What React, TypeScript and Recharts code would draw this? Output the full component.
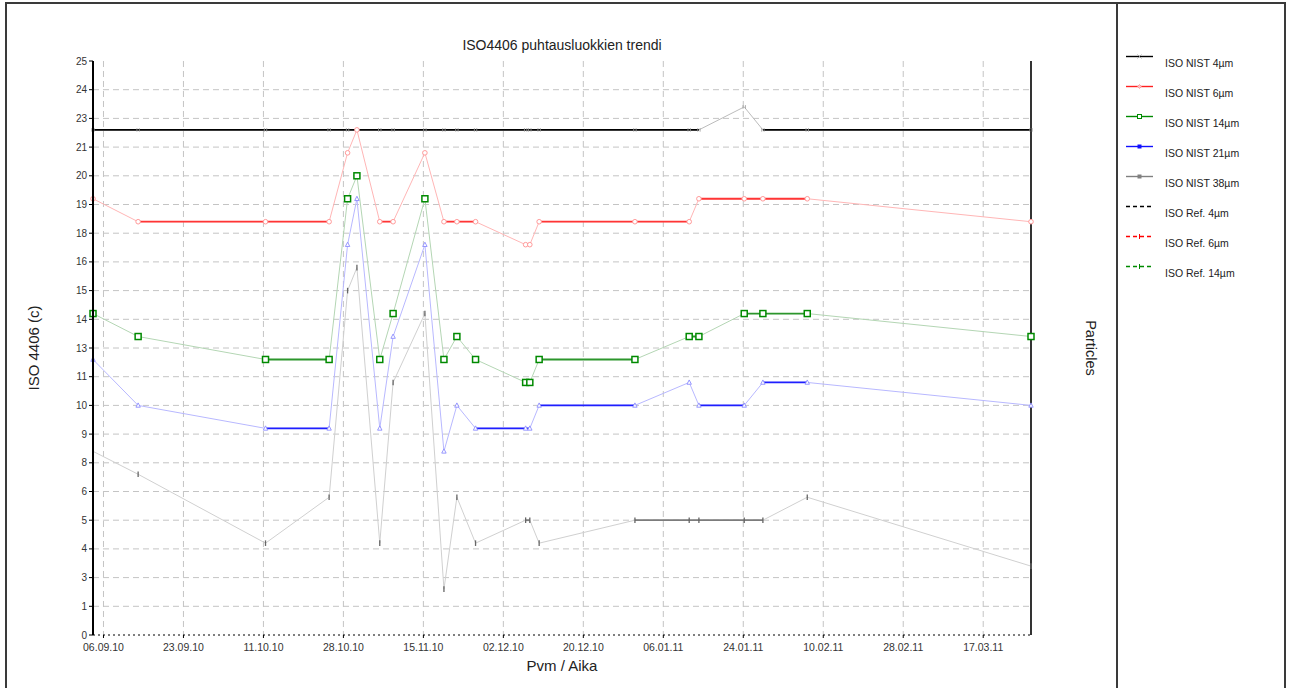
import React from 'react';
import { LineChart, Line, XAxis, YAxis, CartesianGrid } from 'recharts';

// sample times (dd.mm.yy hh:mm)
const sampleDates = [
  '03.09.10 17:00', '13.09.10 14:00', '11.10.10 11:00', '25.10.10 09:00', '29.10.10 10:00',
  '31.10.10 11:00', '05.11.10 11:00', '08.11.10 09:00', '15.11.10 08:00', '19.11.10 12:00',
  '22.11.10 08:00', '26.11.10 10:00', '07.12.10 09:00', '08.12.10 07:00', '10.12.10 08:00',
  '31.12.10 07:00', '12.01.11 04:00', '14.01.11 07:00', '24.01.11 05:00', '28.01.11 07:00',
  '07.02.11 00:00', '27.03.11 23:00',
];

// ISO 4406 codes per particle size
const iso4 = [22, 22, 22, 22, 22, 22, 22, 22, 22, 22, 22, 22, 22, 22, 22, 22, 22, 22, 23, 22, 22, 22];
const iso6 = [19, 18, 18, 18, 21, 22, 18, 18, 21, 18, 18, 18, 17, 17, 18, 18, 18, 19, 19, 19, 19, 18];
const iso14 = [14, 13, 12, 12, 19, 20, 12, 14, 19, 12, 13, 12, 11, 11, 12, 12, 13, 13, 14, 14, 14, 13];
const iso21 = [12, 10, 9, 9, 17, 19, 9, 13, 17, 8, 10, 9, 9, 9, 10, 10, 11, 10, 10, 11, 11, 10];
const iso38 = [8, 7, 4, 6, 15, 16, 4, 11, 14, 2, 6, 4, 5, 5, 4, 5, 5, 5, 5, 5, 6, 3];

const dateTicks = [
  '06.09.10 00:00', '23.09.10 12:00', '11.10.10 00:00', '28.10.10 12:00', '15.11.10 00:00',
  '02.12.10 12:00', '20.12.10 00:00', '06.01.11 12:00', '24.01.11 00:00', '10.02.11 12:00',
  '28.02.11 00:00', '17.03.11 12:00',
];
const isoTickLabels = ['0', '1', '3', '4', '5', '6', '8', '9', '10', '11', '13', '14', '15', '16', '18', '19', '20', '21', '23', '24', '25'];
const particleTickLabels = [
  '0.01', '0.02', '0.08', '0.16', '0.32', '0.64', '2.50', '5', '10', '20', '80',
  '160', '320', '640', '2500', '5000', '10000', '20000', '80000', '160000', '320000',
];
const legendNames = [
  'ISO NIST 4µm', 'ISO NIST 6µm', 'ISO NIST 14µm', 'ISO NIST 21µm', 'ISO NIST 38µm',
  'ISO Ref. 4µm', 'ISO Ref. 6µm', 'ISO Ref. 14µm',
];

const FONT = '"Liberation Sans", Arial, sans-serif';
const W = 1290;
const H = 688;
const Y_MAX = 25;
const PLOT = { left: 93, top: 61, right: 1031, bottom: 635 };

const toTime = (s: string) => {
  const [d, t] = s.split(' ');
  const [dd, mm, yy] = d.split('.').map(Number);
  const [hh, mi] = (t || '00:00').split(':').map(Number);
  return Date.UTC(2000 + yy, mm - 1, dd, hh, mi);
};

const sampleTimes = sampleDates.map(toTime);
const tMin = Math.min(...sampleTimes);
const tMax = Math.max(...sampleTimes);
const tickTimes = dateTicks.map(toTime);
const tickLabelOf = (v: number) => {
  const i = tickTimes.indexOf(v);
  return i >= 0 ? dateTicks[i].split(' ')[0] : '';
};
const yTicks = isoTickLabels.map((_, i) => (i * Y_MAX) / (isoTickLabels.length - 1));
const innerYTicks = yTicks.slice(1, -1);

// split equal-value runs into two alternating keys so that the flat parts can be drawn bold
function flatRuns(values: number[]) {
  const a: (number | null)[] = values.map(() => null);
  const b: (number | null)[] = values.map(() => null);
  let run = 0;
  let i = 0;
  while (i < values.length) {
    let j = i;
    while (j + 1 < values.length && values[j + 1] === values[i]) j++;
    if (j > i) {
      const target = run % 2 === 0 ? a : b;
      for (let k = i; k <= j; k++) target[k] = values[k];
      run++;
    }
    i = j + 1;
  }
  return [a, b];
}

const CrossDot = (p: any) =>
  p.cx == null ? null : (
    <g key={`c-${p.index}`} stroke="#9a9a9a" strokeWidth={0.8}>
      <line x1={p.cx - 1.2} y1={p.cy - 1.8} x2={p.cx - 1.2} y2={p.cy + 1.8} />
      <line x1={p.cx + 1.2} y1={p.cy - 1.8} x2={p.cx + 1.2} y2={p.cy + 1.8} />
    </g>
  );
const CircleDot = (p: any) =>
  p.cx == null ? null : (
    <circle key={`r-${p.index}`} cx={p.cx} cy={p.cy} r={2.3} fill="#fff" stroke="#ff9a9a" strokeWidth={1} />
  );
const SquareDot = (p: any) =>
  p.cx == null ? null : (
    <rect key={`s-${p.index}`} x={p.cx - 3} y={p.cy - 3} width={6} height={6} fill="#fff" stroke="#008a00" strokeWidth={1.5} />
  );
const TriangleDot = (p: any) =>
  p.cx == null ? null : (
    <path key={`t-${p.index}`} d={`M${p.cx},${p.cy - 2.5}L${p.cx + 2.2},${p.cy + 1.8}L${p.cx - 2.2},${p.cy + 1.8}Z`} fill="#fff" stroke="#8c8cff" strokeWidth={0.9} />
  );
const BarDot = (p: any) =>
  p.cx == null ? null : (
    <line key={`b-${p.index}`} x1={p.cx} y1={p.cy - 2.8} x2={p.cx} y2={p.cy + 2.8} stroke="#666" strokeWidth={1.3} />
  );

const series = [
  { key: 'n4', values: iso4, faded: '#bcbcbc', bold: '#000000', width: 1.8, dot: CrossDot },
  { key: 'n6', values: iso6, faded: '#ffb6b6', bold: '#ff3535', width: 1.8, dot: CircleDot },
  { key: 'n14', values: iso14, faded: '#b4d6b4', bold: '#2c962c', width: 1.8, dot: SquareDot },
  { key: 'n21', values: iso21, faded: '#b8b8ff', bold: '#1f1fff', width: 1.8, dot: TriangleDot },
  { key: 'n38', values: iso38, faded: '#d0d0d0', bold: '#7c7c7c', width: 1.8, dot: BarDot },
];

const flats = series.map((s) => flatRuns(s.values));

const rows = sampleDates.map((d, i) => {
  const row: Record<string, number | null> = { t: sampleTimes[i] };
  series.forEach((s, si) => {
    row[s.key] = s.values[i];
    row[`${s.key}f0`] = flats[si][0][i];
    row[`${s.key}f1`] = flats[si][1][i];
  });
  return row;
});

const legendStyles = [
  { color: '#000', dash: undefined, mark: 'x' },
  { color: '#ff2020', dash: undefined, mark: 'diamond' },
  { color: '#008a00', dash: undefined, mark: 'square' },
  { color: '#1010ff', dash: undefined, mark: 'fill' },
  { color: '#808080', dash: undefined, mark: 'fill' },
  { color: '#000', dash: '4 3', mark: 'none' },
  { color: '#ff0000', dash: '4 3', mark: 'tick' },
  { color: '#008a00', dash: '4 3', mark: 'tick' },
];

const LegendBox = () => (
  <svg width={173} height={300} style={{ position: 'absolute', left: 1117, top: 0 }}>
    {legendNames.map((name, i) => {
      const st = legendStyles[i];
      const y = 56.5 + i * 30;
      const cx = 22.5;
      return (
        <g key={name}>
          <line x1={9} x2={36} y1={y} y2={y} stroke={st.color} strokeWidth={1.4} strokeDasharray={st.dash} />
          {st.mark === 'x' && (
            <g stroke="#999" strokeWidth={0.8}>
              <line x1={cx - 2} y1={y - 2} x2={cx + 2} y2={y + 2} />
              <line x1={cx - 2} y1={y + 2} x2={cx + 2} y2={y - 2} />
            </g>
          )}
          {st.mark === 'diamond' && (
            <path d={`M${cx},${y - 2}L${cx + 2},${y}L${cx},${y + 2}L${cx - 2},${y}Z`} fill="#ffc0c0" stroke="#ff8080" strokeWidth={0.6} />
          )}
          {st.mark === 'square' && <rect x={cx - 2} y={y - 2} width={4} height={4} fill="#fff" stroke={st.color} strokeWidth={1} />}
          {st.mark === 'fill' && <rect x={cx - 2} y={y - 2} width={4} height={4} fill={st.color} />}
          {st.mark === 'tick' && <line x1={cx} x2={cx} y1={y - 2.5} y2={y + 2.5} stroke={st.color} strokeWidth={1} />}
          <text x={48} y={y + 10} fontSize={10.5} fill="#222" fontFamily={FONT}>
            {name}
          </text>
        </g>
      );
    })}
  </svg>
);

// grid only at the inner ticks, not on the plot edges
const gridRows = (props: any) => {
  const off = props && props.offset;
  if (!off) return [];
  return innerYTicks.map((v) => off.top + off.height * (1 - v / Y_MAX));
};
const gridCols = (props: any) => {
  const off = props && props.offset;
  if (!off) return [];
  return tickTimes.map((t) => off.left + (off.width * (t - tMin)) / (tMax - tMin));
};

export default function App() {
  return (
    <div style={{ position: 'absolute', left: 0, top: 0, width: W, height: H, background: '#fff', overflow: 'hidden', fontFamily: FONT }}>
      {/* frame */}
      <div style={{ position: 'absolute', left: 5, top: 2, width: 1281, height: 720, border: '2px solid #3a3a3a', boxSizing: 'border-box' }} />
      <div style={{ position: 'absolute', left: 1116, top: 2, width: 1.5, height: 700, background: '#3a3a3a' }} />
      <div style={{ position: 'absolute', left: PLOT.left, top: 37, width: PLOT.right - PLOT.left, textAlign: 'center', fontSize: 14, color: '#222' }}>
        ISO4406 puhtausluokkien trendi
      </div>
      <LineChart width={W} height={H} data={rows} margin={{ top: PLOT.top, right: 0, bottom: 0, left: 0 }} style={{ position: 'absolute', left: 0, top: 0 }}>
        <CartesianGrid
          yAxisId="left"
          stroke="#c4c4c4"
          strokeDasharray="6 4"
          horizontalCoordinatesGenerator={gridRows}
          verticalCoordinatesGenerator={gridCols}
        />
        <XAxis
          dataKey="t"
          type="number"
          domain={[tMin, tMax]}
          ticks={tickTimes}
          tickFormatter={tickLabelOf}
          height={H - PLOT.bottom}
          axisLine={{ stroke: '#000', strokeDasharray: '2 3' }}
          tickLine={{ stroke: '#000' }}
          tickSize={3}
          tickMargin={6}
          tick={{ fontSize: 10.5, fill: '#333', fontFamily: FONT }}
          label={(props: any) => {
            const vb = props.viewBox;
            return (
              <text x={vb.x + vb.width / 2} y={vb.y + 36} textAnchor="middle" fontSize={15} fill="#222" fontFamily={FONT}>
                Pvm / Aika
              </text>
            );
          }}
        />
        <YAxis
          yAxisId="left"
          type="number"
          domain={[0, Y_MAX]}
          ticks={yTicks}
          interval={0}
          tickFormatter={(_v: number, i: number) => isoTickLabels[i]}
          width={PLOT.left}
          axisLine={{ stroke: '#000', strokeWidth: 1.6 }}
          tickLine={{ stroke: '#000' }}
          tickSize={4}
          tickMargin={2}
          tick={{ fontSize: 10, fill: '#333', fontFamily: FONT }}
          label={(props: any) => {
            const vb = props.viewBox;
            const x = vb.x + 39;
            const y = vb.y + vb.height / 2;
            return (
              <text x={x} y={y} transform={`rotate(-90 ${x} ${y})`} textAnchor="middle" fontSize={15} fill="#222" fontFamily={FONT}>
                ISO 4406 (c)
              </text>
            );
          }}
        />
        <YAxis
          yAxisId="right"
          orientation="right"
          type="number"
          domain={[0, Y_MAX]}
          ticks={yTicks}
          interval={0}
          tickFormatter={(_v: number, i: number) => particleTickLabels[i]}
          width={W - PLOT.right}
          axisLine={{ stroke: '#000', strokeWidth: 1.6 }}
          tickLine={{ stroke: '#000' }}
          tickSize={4}
          tickMargin={3}
          tick={{ fontSize: 10, fill: '#333', fontFamily: FONT }}
          label={(props: any) => {
            const vb = props.viewBox;
            const x = vb.x + 55;
            const y = vb.y + vb.height / 2;
            return (
              <text x={x} y={y} transform={`rotate(90 ${x} ${y})`} textAnchor="middle" fontSize={14.5} fill="#222" fontFamily={FONT}>
                Particles
              </text>
            );
          }}
        />
        {series.map((s) => (
          <Line key={`${s.key}-faded`} yAxisId="left" type="linear" dataKey={s.key} stroke={s.faded} strokeWidth={1} dot={false} activeDot={false} isAnimationActive={false} />
        ))}
        {series.flatMap((s) => [0, 1].map((k) => (
          <Line key={`${s.key}-flat${k}`} yAxisId="left" type="linear" dataKey={`${s.key}f${k}`} stroke={s.bold} strokeWidth={s.width} dot={false} activeDot={false} isAnimationActive={false} />
        )))}
        {series.map((s) => (
          <Line key={`${s.key}-dots`} yAxisId="left" type="linear" dataKey={s.key} stroke="none" strokeWidth={0} dot={s.dot} activeDot={false} isAnimationActive={false} />
        ))}
      </LineChart>
      {/* solid left axis rule over the plot's left edge */}
      <div style={{ position: 'absolute', left: PLOT.left - 1, top: PLOT.top, width: 2, height: PLOT.bottom - PLOT.top, background: '#000' }} />
      <LegendBox />
    </div>
  );
}
